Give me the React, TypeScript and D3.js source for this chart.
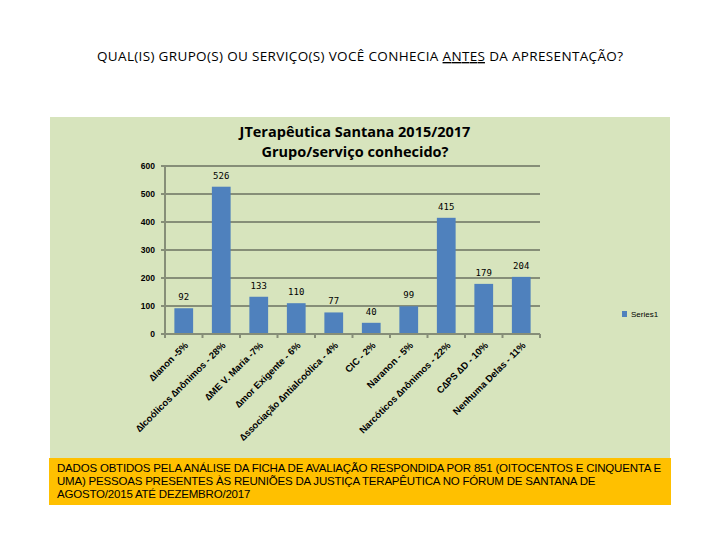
import React from "react";
import * as d3 from "d3";

const categories = [
  "∆lanon -5%",
  "∆lcoólicos ∆nônimos - 28%",
  "∆ME V. Maria -7%",
  "∆mor Exigente - 6%",
  "∆ssociação ∆ntialcoólica - 4%",
  "CIC - 2%",
  "Naranon - 5%",
  "Narcóticos ∆nônimos - 22%",
  "C∆PS ∆D - 10%",
  "Nenhuma Delas - 11%",
];
const values = [92, 526, 133, 110, 77, 40, 99, 415, 179, 204];
const yTicks = [0, 100, 200, 300, 400, 500, 600];
const seriesName = "Series1";
const pageTitle = "QUAL(IS) GRUPO(S) OU SERVIÇO(S) VOCÊ CONHECIA ";
const pageTitleUnderlined = "ANTES";
const pageTitleEnd = " DA APRESENTAÇÃO?";
const chartTitle = ["JTerapêutica Santana 2015/2017", "Grupo/serviço conhecido?"];
const noteLines = [
  "DADOS OBTIDOS PELA ANÁLISE DA FICHA DE  AVALIAÇÃO RESPONDIDA POR 851 (OITOCENTOS E CINQUENTA E",
  "UMA) PESSOAS PRESENTES ÀS REUNIÕES DA JUSTIÇA TERAPÊUTICA NO FÓRUM DE SANTANA DE",
  "AGOSTO/2015 ATÉ DEZEMBRO/2017",
];

export default function App() {
  const left = 165, right = 540, top = 166, bottom = 334;
  const x = d3.scaleBand<string>().domain(categories).range([left, right]).paddingInner(0.5).paddingOuter(0.25);
  const y = d3.scaleLinear().domain([0, 600]).range([bottom, top]);
  const step = (right - left) / categories.length;
  const grid = "#868E78";
  return (
    <svg width={720} height={540} style={{ position: "absolute", left: 0, top: 0, background: "#fff" }}>
      <text x={360} y={61} textAnchor="middle" fontFamily="Open Sans, sans-serif" fontSize={13.5} fill="#000" textLength={526} lengthAdjust="spacing">
        <tspan>{pageTitle}</tspan>
        <tspan textDecoration="underline">{pageTitleUnderlined}</tspan>
        <tspan>{pageTitleEnd}</tspan>
      </text>
      <rect x={50} y={117} width={620} height={341} fill="#D7E4BD" />
      {chartTitle.map((t, i) => (
        <text key={t} x={355} y={137 + i * 20} textAnchor="middle" fontFamily="Open Sans, sans-serif" fontWeight="bold" fontSize={14.5} fill="#000">
          {t}
        </text>
      ))}
      {yTicks.map((t) => (
        <g key={t}>
          {t > 0 && <line x1={left} x2={right} y1={y(t)} y2={y(t)} stroke={grid} strokeWidth={2} />}
          <line x1={left - 4} x2={left} y1={y(t)} y2={y(t)} stroke={grid} strokeWidth={2} />
          <text x={155} y={y(t) + 3} textAnchor="end" fontFamily="Liberation Sans, sans-serif" fontWeight="bold" fontSize={8.5} fill="#000">
            {t}
          </text>
        </g>
      ))}
      {categories.map((c, i) => (
        <rect key={c} x={x(c)} y={y(values[i])} width={x.bandwidth()} height={bottom - y(values[i])} fill="#4F81BD" />
      ))}
      <line x1={left} x2={left} y1={top} y2={bottom + 4} stroke={grid} strokeWidth={2} />
      <line x1={left} x2={right} y1={bottom} y2={bottom} stroke={grid} strokeWidth={2} />
      {d3.range(categories.length + 1).map((k) => (
        <line key={k} x1={left + k * step} x2={left + k * step} y1={bottom} y2={bottom + 4} stroke={grid} strokeWidth={2} />
      ))}
      {categories.map((c, i) => (
        <text key={"v" + c} x={(x(c) as number) + x.bandwidth() / 2} y={y(values[i]) - 8} textAnchor="middle" fontFamily="DejaVu Sans Mono, monospace" fontSize={9} fill="#000">
          {values[i]}
        </text>
      ))}
      {categories.map((c) => {
        const cx = (x(c) as number) + x.bandwidth() / 2 + 5;
        return (
          <text key={"l" + c} transform={`translate(${cx},${bottom + 12}) rotate(-45)`} textAnchor="end" fontFamily="Liberation Sans, sans-serif" fontWeight="bold" fontSize={9.5} fill="#000">
            {c}
          </text>
        );
      })}
      <rect x={622} y={311} width={5} height={6} fill="#4F81BD" />
      <text x={631} y={317} fontFamily="Liberation Sans, sans-serif" fontSize={8} fill="#000">{seriesName}</text>
      <rect x={49} y={458} width={622} height={47} fill="#FFC000" />
      {noteLines.map((l, i) => (
        <text key={i} x={57} y={472 + i * 13} fontFamily="Liberation Sans, sans-serif" fontSize={11.5} fill="#000" letterSpacing={-0.2}>
          {l}
        </text>
      ))}
    </svg>
  );
}
